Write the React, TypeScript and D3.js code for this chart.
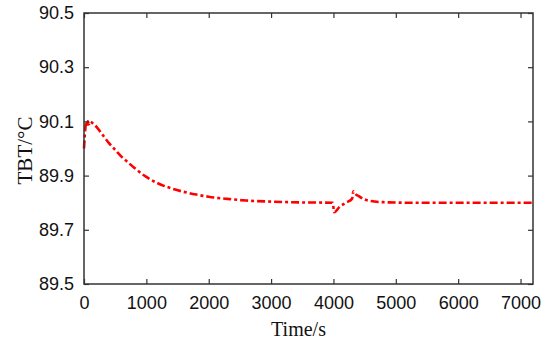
import { useEffect, useRef } from 'react'
import * as d3 from 'd3'

const timeS = [0, 20, 40, 50, 60, 80, 100, 130, 200, 300, 400, 500, 600, 700, 800, 1000, 1200, 1400, 1600, 1800, 2000, 2300, 2600, 3000, 3500, 3990, 4010, 4100, 4200, 4300, 4320, 4340, 4400, 4500, 4600, 4800, 5200, 6000, 7200]
const tbt = [90.0, 90.07, 90.1, 90.08, 90.1, 90.09, 90.1, 90.095, 90.08, 90.05, 90.02, 89.995, 89.97, 89.95, 89.93, 89.895, 89.87, 89.853, 89.84, 89.83, 89.822, 89.814, 89.808, 89.804, 89.801, 89.8, 89.765, 89.785, 89.8, 89.815, 89.842, 89.835, 89.825, 89.812, 89.806, 89.802, 89.8, 89.8, 89.8]
const xTicks = [0, 1000, 2000, 3000, 4000, 5000, 6000, 7000]
const yTicks = [89.5, 89.7, 89.9, 90.1, 90.3, 90.5]

const W = 550
const H = 349
const MARGIN = { top: 13, right: 17, bottom: 65, left: 84 }

export default function App() {
  const svgRef = useRef<SVGSVGElement>(null)

  useEffect(() => {
    const svg = svgRef.current
    if (!svg) return
    d3.select(svg).selectAll('*').remove()

    const innerW = W - MARGIN.left - MARGIN.right
    const innerH = H - MARGIN.top - MARGIN.bottom
    const axisColor = '#333'
    const tickFont = '"Liberation Sans", Arial, sans-serif'
    const labelFont = '"Liberation Serif", "Times New Roman", serif'

    const x = d3.scaleLinear().domain([0, 7200]).range([0, innerW])
    const y = d3.scaleLinear().domain([89.5, 90.5]).range([innerH, 0])

    const g = d3.select(svg)
      .append('g')
      .attr('transform', `translate(${MARGIN.left},${MARGIN.top})`)

    // 곡선
    const line = d3.line<number>()
      .x((_, i) => x(timeS[i]))
      .y(d => y(d))
      .curve(d3.curveMonotoneX)

    g.append('path')
      .datum(tbt)
      .attr('fill', 'none')
      .attr('stroke', '#ff0000')
      .attr('stroke-width', 2.6)
      .attr('stroke-dasharray', '8,3,3,3')
      .attr('d', line)

    const styleAxis = (sel: d3.Selection<SVGGElement, unknown, null, undefined>) => {
      sel.select('.domain').remove()
      sel.selectAll('line').attr('stroke', axisColor).attr('stroke-width', 1.2)
      sel.selectAll('text')
        .attr('fill', '#111')
        .style('font-family', tickFont)
        .style('font-size', '18px')
    }

    // 아래 축
    g.append('g')
      .attr('transform', `translate(0,${innerH})`)
      .call(d3.axisBottom(x).tickValues(xTicks).tickSize(-5).tickPadding(12).tickFormat(d3.format('d')))
      .call(styleAxis)

    // 위 축 (눈금만)
    g.append('g')
      .call(d3.axisTop(x).tickValues(xTicks).tickSize(-5).tickFormat(() => ''))
      .call(styleAxis)

    // 왼쪽 축
    g.append('g')
      .call(d3.axisLeft(y).tickValues(yTicks).tickSize(-5).tickPadding(10).tickFormat(d3.format('.1f')))
      .call(styleAxis)

    // 오른쪽 축 (눈금만)
    g.append('g')
      .attr('transform', `translate(${innerW},0)`)
      .call(d3.axisRight(y).tickValues(yTicks).tickSize(-5).tickFormat(() => ''))
      .call(styleAxis)

    // 테두리
    g.append('rect')
      .attr('x', 0)
      .attr('y', 0)
      .attr('width', innerW)
      .attr('height', innerH)
      .attr('fill', 'none')
      .attr('stroke', axisColor)
      .attr('stroke-width', 1.5)

    g.append('text')
      .attr('x', innerW / 2 - 10)
      .attr('y', innerH + 52)
      .attr('text-anchor', 'middle')
      .attr('fill', '#111')
      .style('font-family', labelFont)
      .style('font-size', '20px')
      .text('Time/s')

    g.append('text')
      .attr('transform', `translate(${-MARGIN.left + 32},${innerH / 2 + 2}) rotate(-90)`)
      .attr('text-anchor', 'middle')
      .attr('fill', '#111')
      .style('font-family', labelFont)
      .style('font-size', '21px')
      .text('TBT/°C')
  }, [])

  return (
    <svg
      ref={svgRef}
      width={W}
      height={H}
      style={{ position: 'absolute', left: 0, top: 0, background: '#fff' }}
    />
  )
}
